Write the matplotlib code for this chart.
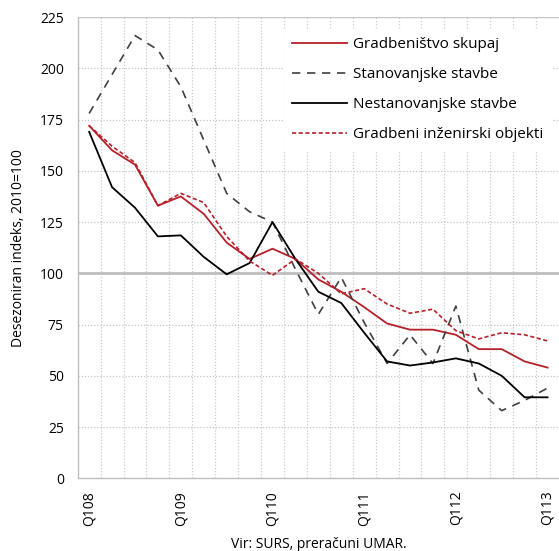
import numpy as np
import matplotlib
matplotlib.use("Agg")
import matplotlib.pyplot as plt

plt.rcParams['font.family'] = ['Open Sans', 'DejaVu Sans']

# quarterly index values, Q1 2008 - Q1 2013
quarters = ['Q108', 'Q208', 'Q308', 'Q408', 'Q109', 'Q209', 'Q309', 'Q409',
            'Q110', 'Q210', 'Q310', 'Q410', 'Q111', 'Q211', 'Q311', 'Q411',
            'Q112', 'Q212', 'Q312', 'Q412', 'Q113']
tick_labels = ['Q108', 'Q109', 'Q110', 'Q111', 'Q112', 'Q113']

skupaj = [172, 160, 153, 133, 137.5, 129, 115, 107, 112, 107, 97, 91,
          83.5, 75.5, 72.5, 72.5, 70, 63, 63, 57, 54]
stanovanjske = [178, 197, 216, 209, 191, 165, 139, 130, 125, 102, 80, 98,
                76, 56, 70, 56, 84, 43, 33, 38, 44]
nestanovanjske = [169, 142, 132, 118, 118.5, 108, 99.5, 105, 125, 107, 91, 85.5,
                  71, 57, 55, 56.5, 58.5, 56, 50, 39.5, 39.5]
inzenirski = [172, 162, 154, 133, 139, 134.5, 118, 106, 99, 107, 100, 90,
              92.5, 85, 80.5, 82.5, 72, 68, 71, 70, 67]

red = '#B5202B'
x = np.arange(len(quarters))

fig = plt.figure(figsize=(5.59, 5.51), dpi=100)
ax = fig.add_axes([0.139, 0.132, 0.861, 0.837])

# grid
for v in range(25, 226, 25):
    if v == 100:
        continue
    ax.axhline(v, color='#C4C4C4', lw=0.9, ls=(0, (1, 1.5)), zorder=0)
for xb in np.arange(0.5, len(quarters) - 0.5, 1):
    ax.axvline(xb, color='#CACACA', lw=0.9, ls=(0, (1, 1.5)), zorder=0)
ax.axhline(100, color='#BEBEBE', lw=2, zorder=1)

ax.plot(x, skupaj, color=red, lw=1.3, label='Gradbeništvo skupaj', zorder=3)
ax.plot(x, stanovanjske, color='#404040', lw=1.2, ls=(0, (5, 4)),
        label='Stanovanjske stavbe', zorder=3)
ax.plot(x, nestanovanjske, color='black', lw=1.3, label='Nestanovanjske stavbe', zorder=3)
ax.plot(x, inzenirski, color=red, lw=1.2, ls=(0, (2.5, 1.5)),
        label='Gradbeni inženirski objekti', zorder=3)

ax.set_xlim(-0.5, len(quarters) - 0.5)
ax.set_ylim(0, 225)
ax.set_yticks(range(0, 226, 25))
ax.set_xticks(range(0, len(quarters), 4))
ax.set_xticklabels(tick_labels, rotation=90)
ax.tick_params(length=0, labelsize=10, colors='black')
ax.tick_params(axis='y', pad=10)
ax.tick_params(axis='x', pad=9)

for s in ['top', 'right']:
    ax.spines[s].set_visible(False)
ax.axhline(225, color='#C8C8C8', lw=1.0, zorder=0)
for s in ['left', 'bottom']:
    ax.spines[s].set_color('#BEBEBE')
    ax.spines[s].set_linewidth(1.0)

ax.set_ylabel('Desezoniran indeks, 2010=100', fontsize=10, labelpad=10)
ax.set_xlabel('Vir: SURS, preračuni UMAR.', fontsize=10, labelpad=8)

leg = ax.legend(loc='upper right', bbox_to_anchor=(1.0, 0.99), fontsize=11,
                frameon=True, fancybox=False, edgecolor='white', framealpha=1,
                handlelength=3.6, labelspacing=0.98, handletextpad=0.45,
                borderpad=0.5)
leg.set_zorder(5)

fig.savefig('out.png', dpi=100)
